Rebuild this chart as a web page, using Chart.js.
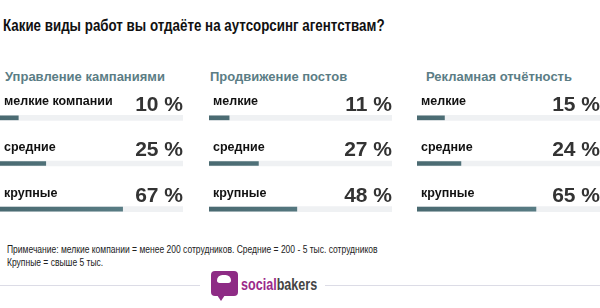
<!DOCTYPE html>
<html>
<head>
<meta charset="utf-8">
<script src="https://cdn.jsdelivr.net/npm/chart.js@4.4.0/dist/chart.umd.min.js"></script>
<style>
  html, body { margin: 0; padding: 0; background: #fff; }
  body { width: 600px; height: 308px; position: relative; overflow: hidden; font-family: "Liberation Sans", Arial, sans-serif; }
  .title { position: absolute; left: 3px; top: 16px; font: bold 17px "Liberation Sans", Arial, sans-serif; color: #111; white-space: nowrap; transform: scaleX(0.785); transform-origin: 0 0; }
  .sec { position: absolute; top: 69px; font: bold 13px "Liberation Sans", Arial, sans-serif; color: #5b7d85; }
  .panel { position: absolute; top: 85px; width: 190px; height: 147px; }
  .note { position: absolute; left: 7px; top: 243px; font: 10.5px/13px "Liberation Sans", Arial, sans-serif; color: #222; white-space: nowrap; transform: scaleX(0.81); transform-origin: 0 0; }
  .line { position: absolute; top: 285px; height: 1px; background: #dcdce6; }
  .logo { position: absolute; left: 211px; top: 271px; width: 27px; height: 25px; background: #8e2b85; border-radius: 4px; }
  .logo:after { content: ""; position: absolute; left: 6px; bottom: -5px; border-left: 4px solid transparent; border-right: 4px solid transparent; border-top: 6px solid #8e2b85; }
  .hat { position: absolute; left: 217px; top: 275px; width: 14px; height: 8px; background: #fff; border-radius: 6px 6px 3px 3px; }
  .brand { position: absolute; left: 241px; top: 275px; font: bold 17px "Liberation Sans", Arial, sans-serif; white-space: nowrap; transform: scaleX(0.74); transform-origin: 0 0; }
</style>
</head>
<body>
<div class="title">Какие виды работ вы отдаёте на аутсорсинг агентствам?</div>

<div class="sec" style="left:5px">Управление кампаниями</div>
<div class="sec" style="left:210px">Продвижение постов</div>
<div class="sec" style="left:426px">Рекламная отчётность</div>

<div class="panel" style="left:0px"><canvas id="c1"></canvas></div>
<div class="panel" style="left:209px"><canvas id="c2"></canvas></div>
<div class="panel" style="left:417px"><canvas id="c3"></canvas></div>

<div class="note">Примечание: мелкие компании = менее 200 сотрудников. Средние = 200 - 5 тыс. сотрудников<br>Крупные = свыше 5 тыс.</div>

<div class="line" style="left:0;width:200px"></div>
<div class="line" style="left:325px;width:275px"></div>
<div class="logo"></div>
<div class="hat"></div>
<div class="brand"><span style="color:#9b2a8a">social</span><span style="color:#444">bakers</span></div>

<script>
const panelIds = ['c1', 'c2', 'c3'];
const labelsCampaigns = ['мелкие компании', 'средние', 'крупные'];
const labelsShort = ['мелкие', 'средние', 'крупные'];
const campaigns = [10, 25, 67];
const posts = [11, 27, 48];
const reporting = [15, 24, 65];
const trackMax = [100, 100, 100];

const labelPlugin = {
  id: 'rowText',
  afterDatasetsDraw(chart) {
    const ctx = chart.ctx;
    const y = chart.scales.y;
    const area = chart.chartArea;
    const values = chart.data.datasets[0].data;
    ctx.save();
    chart.data.labels.forEach((lab, i) => {
      const cy = y.getPixelForValue(i);
      ctx.fillStyle = '#111';
      ctx.font = 'bold 12.5px "Liberation Sans", Arial, sans-serif';
      ctx.textAlign = 'left';
      ctx.textBaseline = 'middle';
      ctx.fillText(lab, area.left + 4, cy - 16);
      ctx.fillStyle = '#333';
      ctx.font = 'bold 21px "Liberation Sans", Arial, sans-serif';
      ctx.textAlign = 'right';
      ctx.fillText(values[i] + ' %', area.right, cy - 13);
    });
    ctx.restore();
  }
};

function makePanel(id, labels, values) {
  new Chart(document.getElementById(id), {
    type: 'bar',
    data: {
      labels: labels,
      datasets: [
        {
          data: values,
          order: 0,
          grouped: false,
          barThickness: 4,
          backgroundColor: (c) => {
            const a = c.chart.chartArea;
            if (!a) return '#537880';
            const g = c.chart.ctx.createLinearGradient(a.left, 0, a.right, 0);
            g.addColorStop(0, '#4a6a71');
            g.addColorStop(1, '#5f858d');
            return g;
          }
        },
        {
          data: trackMax,
          order: 1,
          grouped: false,
          barThickness: 5,
          backgroundColor: '#eff1f3'
        }
      ]
    },
    options: {
      indexAxis: 'y',
      responsive: true,
      maintainAspectRatio: false,
      animation: false,
      layout: { padding: { top: 10, right: 7, left: 0, bottom: 0 } },
      plugins: { legend: { display: false }, tooltip: { enabled: false } },
      scales: {
        x: { display: false, min: 0, max: 100 },
        y: { display: false }
      }
    },
    plugins: [labelPlugin]
  });
}

makePanel(panelIds[0], labelsCampaigns, campaigns);
makePanel(panelIds[1], labelsShort, posts);
makePanel(panelIds[2], labelsShort, reporting);
</script>
</body>
</html>
